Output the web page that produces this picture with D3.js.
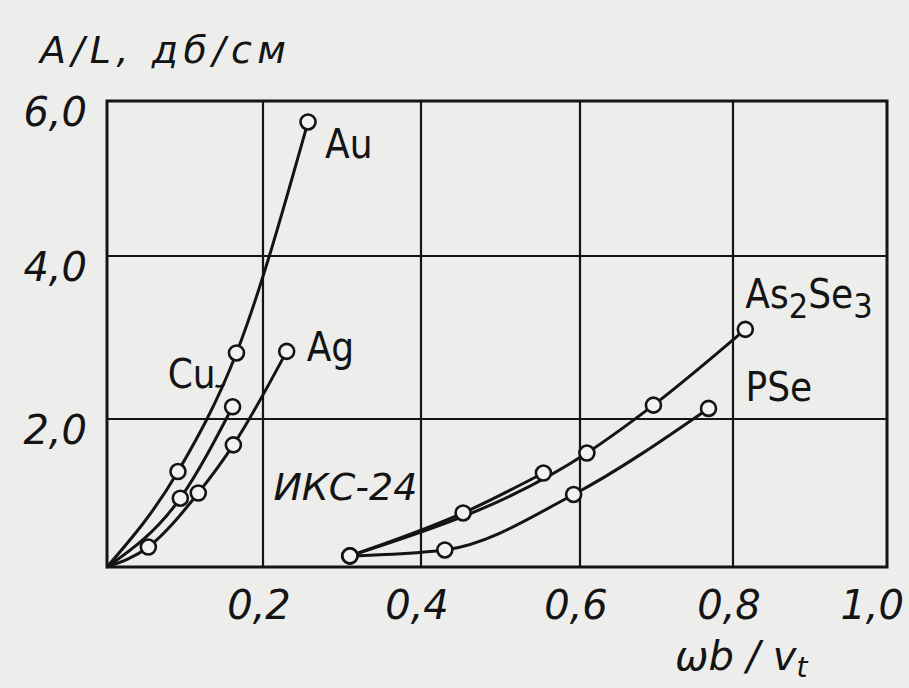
<!DOCTYPE html>
<html>
<head>
<meta charset="utf-8">
<script src="https://cdn.jsdelivr.net/npm/d3@7"></script>
<style>
  body { margin: 0; background: #ededeb; }
  svg { display: block; }
</style>
</head>
<body>
<div id="chart"></div>
<script>
// values
const xTicks = [0.2, 0.4, 0.6, 0.8, 1.0];
const xTickLabels = ["0,2", "0,4", "0,6", "0,8", "1,0"];
const yTicks = [2, 4, 6];
const yTickLabels = ["2,0", "4,0", "6,0"];

const seriesNames = ["Au", "Cu", "Ag", "As2Se3", "PSe", "ИКС-24"];

const auX = [0, 0.091, 0.166, 0.257];
const auY = [0, 1.29, 2.81, 5.73];
const cuX = [0, 0.094, 0.161];
const cuY = [0, 0.93, 2.15];
const agX = [0, 0.053, 0.117, 0.162, 0.230];
const agY = [0, 0.27, 1.00, 1.65, 2.83];
const asX = [0.310, 0.609, 0.696, 0.816];
const asY = [0.15, 1.54, 2.17, 3.10];
const pseX = [0.310, 0.430, 0.592, 0.768];
const pseY = [0.15, 0.23, 0.98, 2.13];
const iksX = [0.310, 0.453, 0.554];
const iksY = [0.15, 0.73, 1.27];

const width = 909;
const height = 688;

// the scan is slightly uneven, so the scales follow the printed grid
const xScale = d3.scaleLinear()
  .domain([0, 0.2, 0.4, 0.6, 0.8, 1.0])
  .range([107, 263, 421, 580, 733, 887]);
const yScale = d3.scaleLinear()
  .domain([0, 2, 4, 6])
  .range([567, 419, 256, 101]);

const svg = d3.select("#chart")
  .append("svg")
  .attr("width", width)
  .attr("height", height);

const ink = "#141414";
const tickFont = "'DejaVu Sans', sans-serif";
const labelFont = "'DejaVu Sans Condensed', 'DejaVu Sans', sans-serif";

// grid
const gridG = svg.append("g");
gridG.selectAll("line.vx")
  .data(xTicks.slice(0, -1))
  .enter()
  .append("line")
  .attr("x1", d => xScale(d))
  .attr("x2", d => xScale(d))
  .attr("y1", yScale(6))
  .attr("y2", yScale(0))
  .attr("stroke", ink)
  .attr("stroke-width", 2.2);
gridG.selectAll("line.hy")
  .data(yTicks.slice(0, -1))
  .enter()
  .append("line")
  .attr("x1", xScale(0))
  .attr("x2", xScale(1))
  .attr("y1", d => yScale(d))
  .attr("y2", d => yScale(d))
  .attr("stroke", ink)
  .attr("stroke-width", 2.2);

// frame
svg.append("rect")
  .attr("x", xScale(0))
  .attr("y", yScale(6))
  .attr("width", xScale(1) - xScale(0))
  .attr("height", yScale(0) - yScale(6))
  .attr("fill", "none")
  .attr("stroke", ink)
  .attr("stroke-width", 3);

// tick labels
svg.append("g").selectAll("text")
  .data(yTicks)
  .enter()
  .append("text")
  .attr("x", 87)
  .attr("y", d => yScale(d) + 25)
  .attr("text-anchor", "end")
  .attr("font-family", tickFont)
  .attr("font-style", "italic")
  .attr("font-size", 40)
  .attr("fill", ink)
  .text((d, i) => yTickLabels[i]);

svg.append("g").selectAll("text")
  .data(xTicks)
  .enter()
  .append("text")
  .attr("x", (d, i) => i === xTicks.length - 1 ? xScale(d) + 17 : xScale(d) - 4)
  .attr("y", 619)
  .attr("text-anchor", (d, i) => i === xTicks.length - 1 ? "end" : "middle")
  .attr("font-family", tickFont)
  .attr("font-style", "italic")
  .attr("font-size", 40)
  .attr("fill", ink)
  .text((d, i) => xTickLabels[i]);

// axis titles
svg.append("text")
  .attr("x", 40)
  .attr("y", 63)
  .attr("font-family", tickFont)
  .attr("font-style", "italic")
  .attr("font-size", 38)
  .attr("textLength", 246)
  .attr("lengthAdjust", "spacing")
  .attr("fill", ink)
  .text("A/L, дб/см");

const xt = svg.append("text")
  .attr("x", 675)
  .attr("y", 670)
  .attr("font-family", tickFont)
  .attr("font-style", "italic")
  .attr("font-size", 40)
  .attr("fill", ink);
xt.append("tspan").text("ωb / v");
xt.append("tspan").attr("dy", 7).attr("font-size", 28).text("t");

// curves
const series = [
  { xs: auX, ys: auY },
  { xs: cuX, ys: cuY },
  { xs: agX, ys: agY },
  { xs: asX, ys: asY },
  { xs: pseX, ys: pseY },
  { xs: iksX, ys: iksY }
].map((s, i) => ({
  name: seriesNames[i],
  points: s.xs.map((x, j) => [x, s.ys[j]])
}));

const line = d3.line()
  .x(d => xScale(d[0]))
  .y(d => yScale(d[1]))
  .curve(d3.curveMonotoneX);

const curveG = svg.append("g");
curveG.selectAll("path")
  .data(series)
  .enter()
  .append("path")
  .attr("d", d => line(d.points))
  .attr("fill", "none")
  .attr("stroke", ink)
  .attr("stroke-width", 3);

const markers = series.flatMap(s => s.points.filter(p => p[0] > 0));
curveG.selectAll("circle")
  .data(markers)
  .enter()
  .append("circle")
  .attr("cx", d => xScale(d[0]))
  .attr("cy", d => yScale(d[1]))
  .attr("r", 7.5)
  .attr("fill", "#f2f2f0")
  .attr("stroke", ink)
  .attr("stroke-width", 2.6);

// curve labels, offset from each curve's last point
const labelOffsets = {
  "Au": [17, 36, "start"],
  "Cu": [-17, -19, "end"],
  "Ag": [20, 10, "start"],
  "As2Se3": [0, -21, "start"],
  "PSe": [37, -7, "start"],
  "ИКС-24": [-126, 27, "end"]
};

series.forEach(s => {
  const last = s.points[s.points.length - 1];
  const [dx, dy, anchor] = labelOffsets[s.name];
  const t = svg.append("text")
    .attr("x", xScale(last[0]) + dx)
    .attr("y", yScale(last[1]) + dy)
    .attr("text-anchor", anchor)
    .attr("font-family", s.name === "ИКС-24" ? tickFont : labelFont)
    .attr("font-style", s.name === "ИКС-24" ? "italic" : "normal")
    .attr("font-size", s.name === "ИКС-24" ? 38 : 40)
    .attr("fill", ink);
  if (s.name === "As2Se3") {
    t.append("tspan").text("As");
    t.append("tspan").attr("dy", 10).attr("font-size", 34).text("2");
    t.append("tspan").attr("dy", -10).text("Se");
    t.append("tspan").attr("dy", 10).attr("font-size", 34).text("3");
  } else {
    t.text(s.name);
  }
  if (s.name === "Cu") {
    svg.append("path")
      .attr("d", `M${xScale(last[0]) + dx},${yScale(last[1]) + dy - 2} q5,2 9,-2`)
      .attr("fill", "none")
      .attr("stroke", ink)
      .attr("stroke-width", 2.5);
  }
});
</script>
</body>
</html>
